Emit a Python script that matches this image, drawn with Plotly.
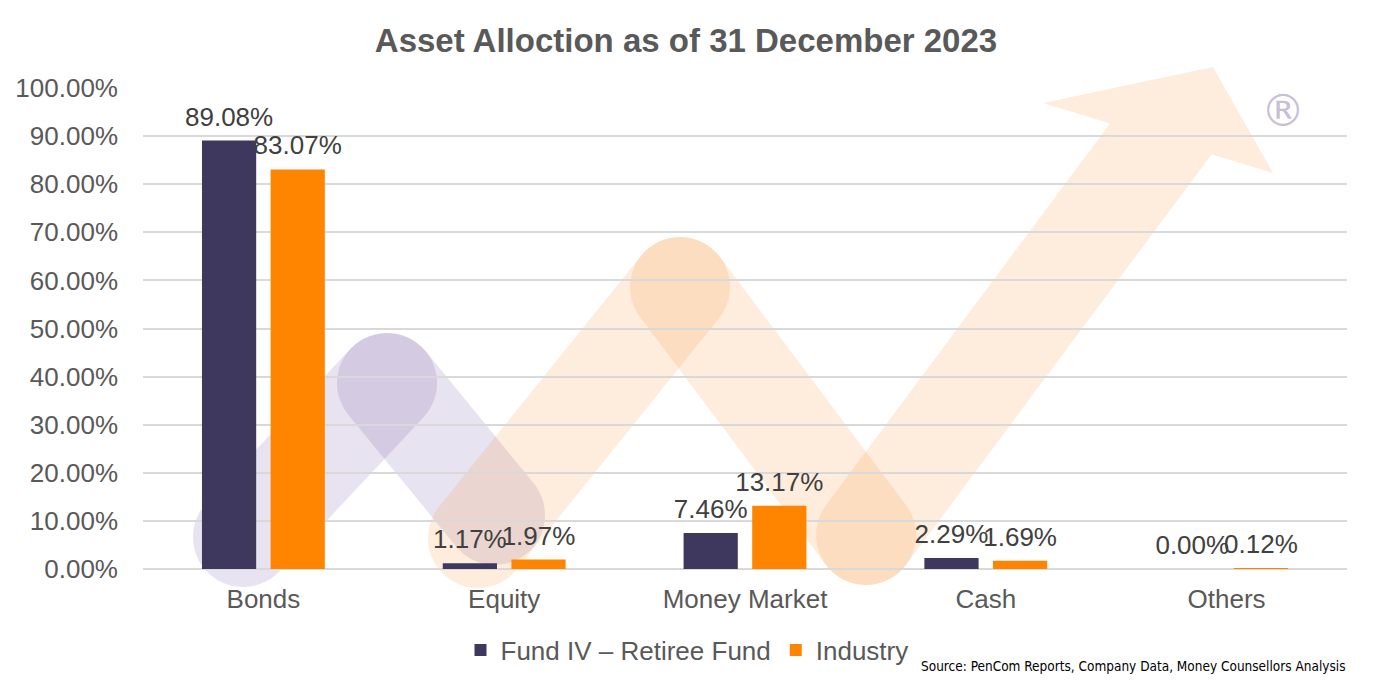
import math
import plotly.graph_objects as go

# ---- data ----
categories = ["Bonds", "Equity", "Money Market", "Cash", "Others"]
fund_values = [89.08, 1.17, 7.46, 2.29, 0.00]
industry_values = [83.07, 1.97, 13.17, 1.69, 0.12]
series_names = ["Fund IV – Retiree Fund", "Industry"]
y_ticks = [0, 10, 20, 30, 40, 50, 60, 70, 80, 90, 100]
y_tick_labels = ["0.00%", "10.00%", "20.00%", "30.00%", "40.00%", "50.00%",
                 "60.00%", "70.00%", "80.00%", "90.00%", "100.00%"]

FUND_COLOR = "#3F385E"
IND_COLOR = "#FF8400"
FONT = "Liberation Sans, Arial, sans-serif"

# page offset compensation (browser body margin)
OFF = 8
W, H = 1378, 690
PL, PR, PT, PB = 143, 1347, 88, 569          # wanted plot box in screenshot pixels
L, T = PL - OFF, PT - OFF
R, B = W - (PR - OFF), H - (PB - OFF)
PW, PH = PR - PL, PB - PT


def to_paper(px, py):
    return ((px - PL) / PW, (PB - py) / PH)


def semicircle(c, ang_from, r, n=28):
    cx, cy = c
    return [(cx + r * math.cos(ang_from + math.pi * i / n),
             cy + r * math.sin(ang_from + math.pi * i / n)) for i in range(n + 1)]


def capsule(a, b, r):
    ang = math.atan2(b[1] - a[1], b[0] - a[0])
    return semicircle(b, ang - math.pi / 2, r) + semicircle(a, ang + math.pi / 2, r)


def line_intersect(p, d, q, e):
    den = d[0] * e[1] - d[1] * e[0]
    t = ((q[0] - p[0]) * e[1] - (q[1] - p[1]) * e[0]) / den
    return (p[0] + t * d[0], p[1] + t * d[1])


def arrow_poly(start, toward, r, wing_l, tip, wing_r):
    ang = math.atan2(toward[1] - start[1], toward[0] - start[0])
    d = (math.cos(ang), math.sin(ang))
    nrm = (-d[1], d[0])
    base_dir = (wing_r[0] - wing_l[0], wing_r[1] - wing_l[1])
    e1 = (start[0] + r * nrm[0], start[1] + r * nrm[1])
    e2 = (start[0] - r * nrm[0], start[1] - r * nrm[1])
    i1 = line_intersect(e1, d, wing_l, base_dir)
    i2 = line_intersect(e2, d, wing_l, base_dir)
    if math.dist(i1, wing_l) > math.dist(i2, wing_l):
        i1, i2 = i2, i1
    pts = semicircle(start, ang + math.pi / 2, r)
    end_side = pts[-1]
    if math.dist(end_side, i1) < math.dist(end_side, i2):
        pts += [i1, wing_l, tip, wing_r, i2]
    else:
        pts += [i2, wing_r, tip, wing_l, i1]
    return pts


def poly_path(pts):
    pp = [to_paper(x, y) for x, y in pts]
    return "M " + " L ".join(f"{x:.5f},{y:.5f}" for x, y in pp) + " Z"


PURPLE_WM = "rgba(90,60,150,0.14)"
ORANGE_WM = "rgba(250,135,30,0.15)"

shapes = []
purple_pts = [(243, 537), (387, 383), (495, 515)]
for i in range(len(purple_pts) - 1):
    shapes.append(dict(type="path", xref="paper", yref="paper", layer="below",
                       path=poly_path(capsule(purple_pts[i], purple_pts[i + 1], 50)),
                       fillcolor=PURPLE_WM, line=dict(width=0)))
orange_pts = [(478, 538), (680, 287), (866, 535)]
for i in range(len(orange_pts) - 1):
    shapes.append(dict(type="path", xref="paper", yref="paper", layer="below",
                       path=poly_path(capsule(orange_pts[i], orange_pts[i + 1], 50)),
                       fillcolor=ORANGE_WM, line=dict(width=0)))
shapes.append(dict(type="path", xref="paper", yref="paper", layer="below",
                   path=poly_path(arrow_poly((866, 535), (1160, 140), 50,
                                             (1043, 103), (1213, 67), (1273, 173))),
                   fillcolor=ORANGE_WM, line=dict(width=0)))

fig = go.Figure()
for idx, (name, vals, col) in enumerate([(series_names[0], fund_values, FUND_COLOR),
                                         (series_names[1], industry_values, IND_COLOR)]):
    fig.add_trace(go.Bar(
        x=categories, y=vals, name=name, marker_color=col, marker_line_width=0,
        offsetgroup=str(idx), hoverinfo="skip",
    ))
for idx, vals in enumerate([fund_values, industry_values]):
    fig.add_trace(go.Scatter(
        x=categories, y=vals, mode="markers+text", offsetgroup=str(idx),
        marker=dict(size=12, opacity=0), showlegend=False, hoverinfo="skip",
        text=[f"{v:.2f}%" for v in vals], textposition="top center",
        textfont=dict(family=FONT, size=26, color="#404040"), cliponaxis=False,
    ))

rx, ry = to_paper(1283, 111)
src_x, src_y = to_paper(1347, 666)
lx, _ = to_paper(687, 0)
_, ly = to_paper(0, 650)
fig.update_layout(
    width=W, height=H,
    margin=dict(l=L, r=R, t=T, b=B, autoexpand=False),
    paper_bgcolor="white", plot_bgcolor="rgba(0,0,0,0)",
    barmode="group", bargap=0.43, bargroupgap=0.21,
    scattermode="group", scattergap=0.43,
    title=dict(text="<b>Asset Alloction as of 31 December 2023</b>",
               x=(686 - OFF) / W, xref="container", xanchor="center",
               y=1 - (40 - OFF) / H, yref="container", yanchor="middle",
               font=dict(family=FONT, size=33, color="#595959")),
    font=dict(family=FONT, color="#595959"),
    xaxis=dict(showgrid=False, showline=False, ticks="",
               tickfont=dict(family=FONT, size=26, color="#595959"),
               ticklabelstandoff=12),
    yaxis=dict(range=[0, 100], tickvals=y_ticks, ticktext=y_tick_labels,
               showgrid=True, gridcolor="#D9D9D9", gridwidth=1.5,
               zeroline=True, zerolinecolor="#D9D9D9", zerolinewidth=1.5,
               showline=False, ticks="", ticklabelstandoff=24,
               tickfont=dict(family=FONT, size=26, color="#595959")),
    legend=dict(orientation="h", x=lx, xanchor="center", y=ly, yanchor="middle",
                font=dict(family=FONT, size=26, color="#595959"),
                bgcolor="rgba(0,0,0,0)"),
    shapes=shapes,
    annotations=[
        dict(text="®", x=rx, y=ry, xref="paper", yref="paper", showarrow=False,
             xanchor="center", yanchor="middle",
             font=dict(family="DejaVu Sans", size=44, color="rgba(120,100,150,0.42)")),
        dict(text="Source: PenCom Reports, Company Data, Money Counsellors Analysis",
             x=src_x, y=src_y, xref="paper", yref="paper", xanchor="right",
             yanchor="middle", showarrow=False,
             font=dict(family="DejaVu Sans Condensed, DejaVu Sans", size=13.5,
                       color="#000000")),
    ],
)

fig.write_html("out.html")
